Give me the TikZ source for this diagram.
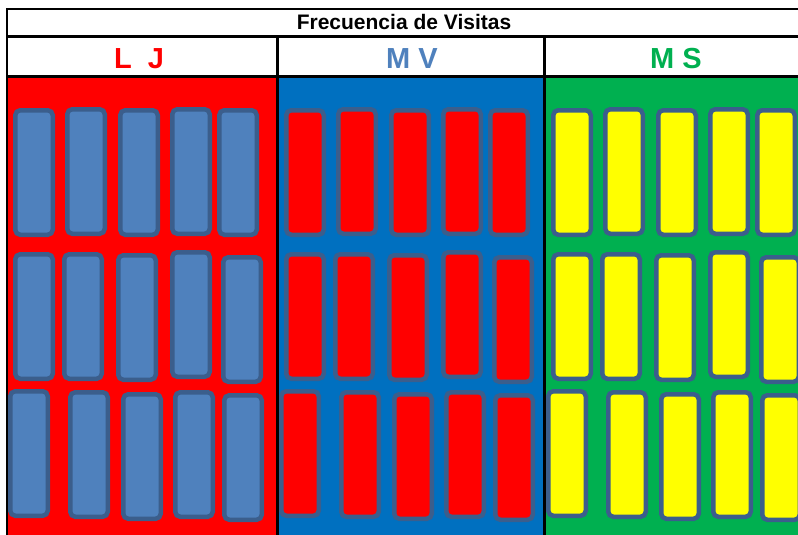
\documentclass[tikz,border=0pt]{standalone}
\usepackage{fontspec}
\setmainfont{Liberation Sans}
\definecolor{rojo}{HTML}{FF0000}
\definecolor{azul}{HTML}{0070C0}
\definecolor{verde}{HTML}{00B050}
\definecolor{amarillo}{HTML}{FFFF00}
\definecolor{acero}{HTML}{4F81BD}
\definecolor{borde}{HTML}{3B5E8C}
\tikzset{
  caja/.style={draw=borde,line width=4.5pt,rounded corners=5pt},
  linea/.style={line width=3pt},
  cabecera/.style={anchor=base,font=\bfseries\fontsize{29}{34}\selectfont},
}

\begin{document}
\begin{tikzpicture}[x=1pt,y=-1pt]
\useasboundingbox (0,0) rectangle (798,535);
\fill[white] (0,0) rectangle (798,535);
\fill[rojo] (8,78) rectangle (277,535);
\fill[azul] (277,78) rectangle (544,535);
\fill[verde] (544,78) rectangle (798,535);
\foreach \px/\relleno in {8/acero,279/rojo,546/amarillo}{
  \foreach \dx/\ty in {5/108,57/107,110/108,162/107,209/108,
                       5/252,54/252,108/253,162/250,213/255,
                       0/389,60/390,113/392,165/390,214/393}
    \draw[caja,fill=\relleno] (\px+\dx+2.25,\ty+2.25) rectangle ++(37.5,124.5);
}
\draw[line width=2pt] (7,535) -- (7,9) -- (798,9);
\draw[linea] (7,36.5) -- (798,36.5);
\draw[linea] (7,76.5) -- (798,76.5);
\draw[linea] (277.5,36.5) -- (277.5,535);
\draw[linea] (544,36.5) -- (544,535);
\node[anchor=base,font=\bfseries\fontsize{21}{25}\selectfont] (titulo) at (404,30) {Frecuencia de Visitas};
\node[cabecera,text=rojo] (lj) at (139,69) {L\ \ J};
\node[cabecera,text=acero] (mv) at (412,69) {M V};
\node[cabecera,text=verde] (ms) at (676,69) {M S};
\end{tikzpicture}
\end{document}
